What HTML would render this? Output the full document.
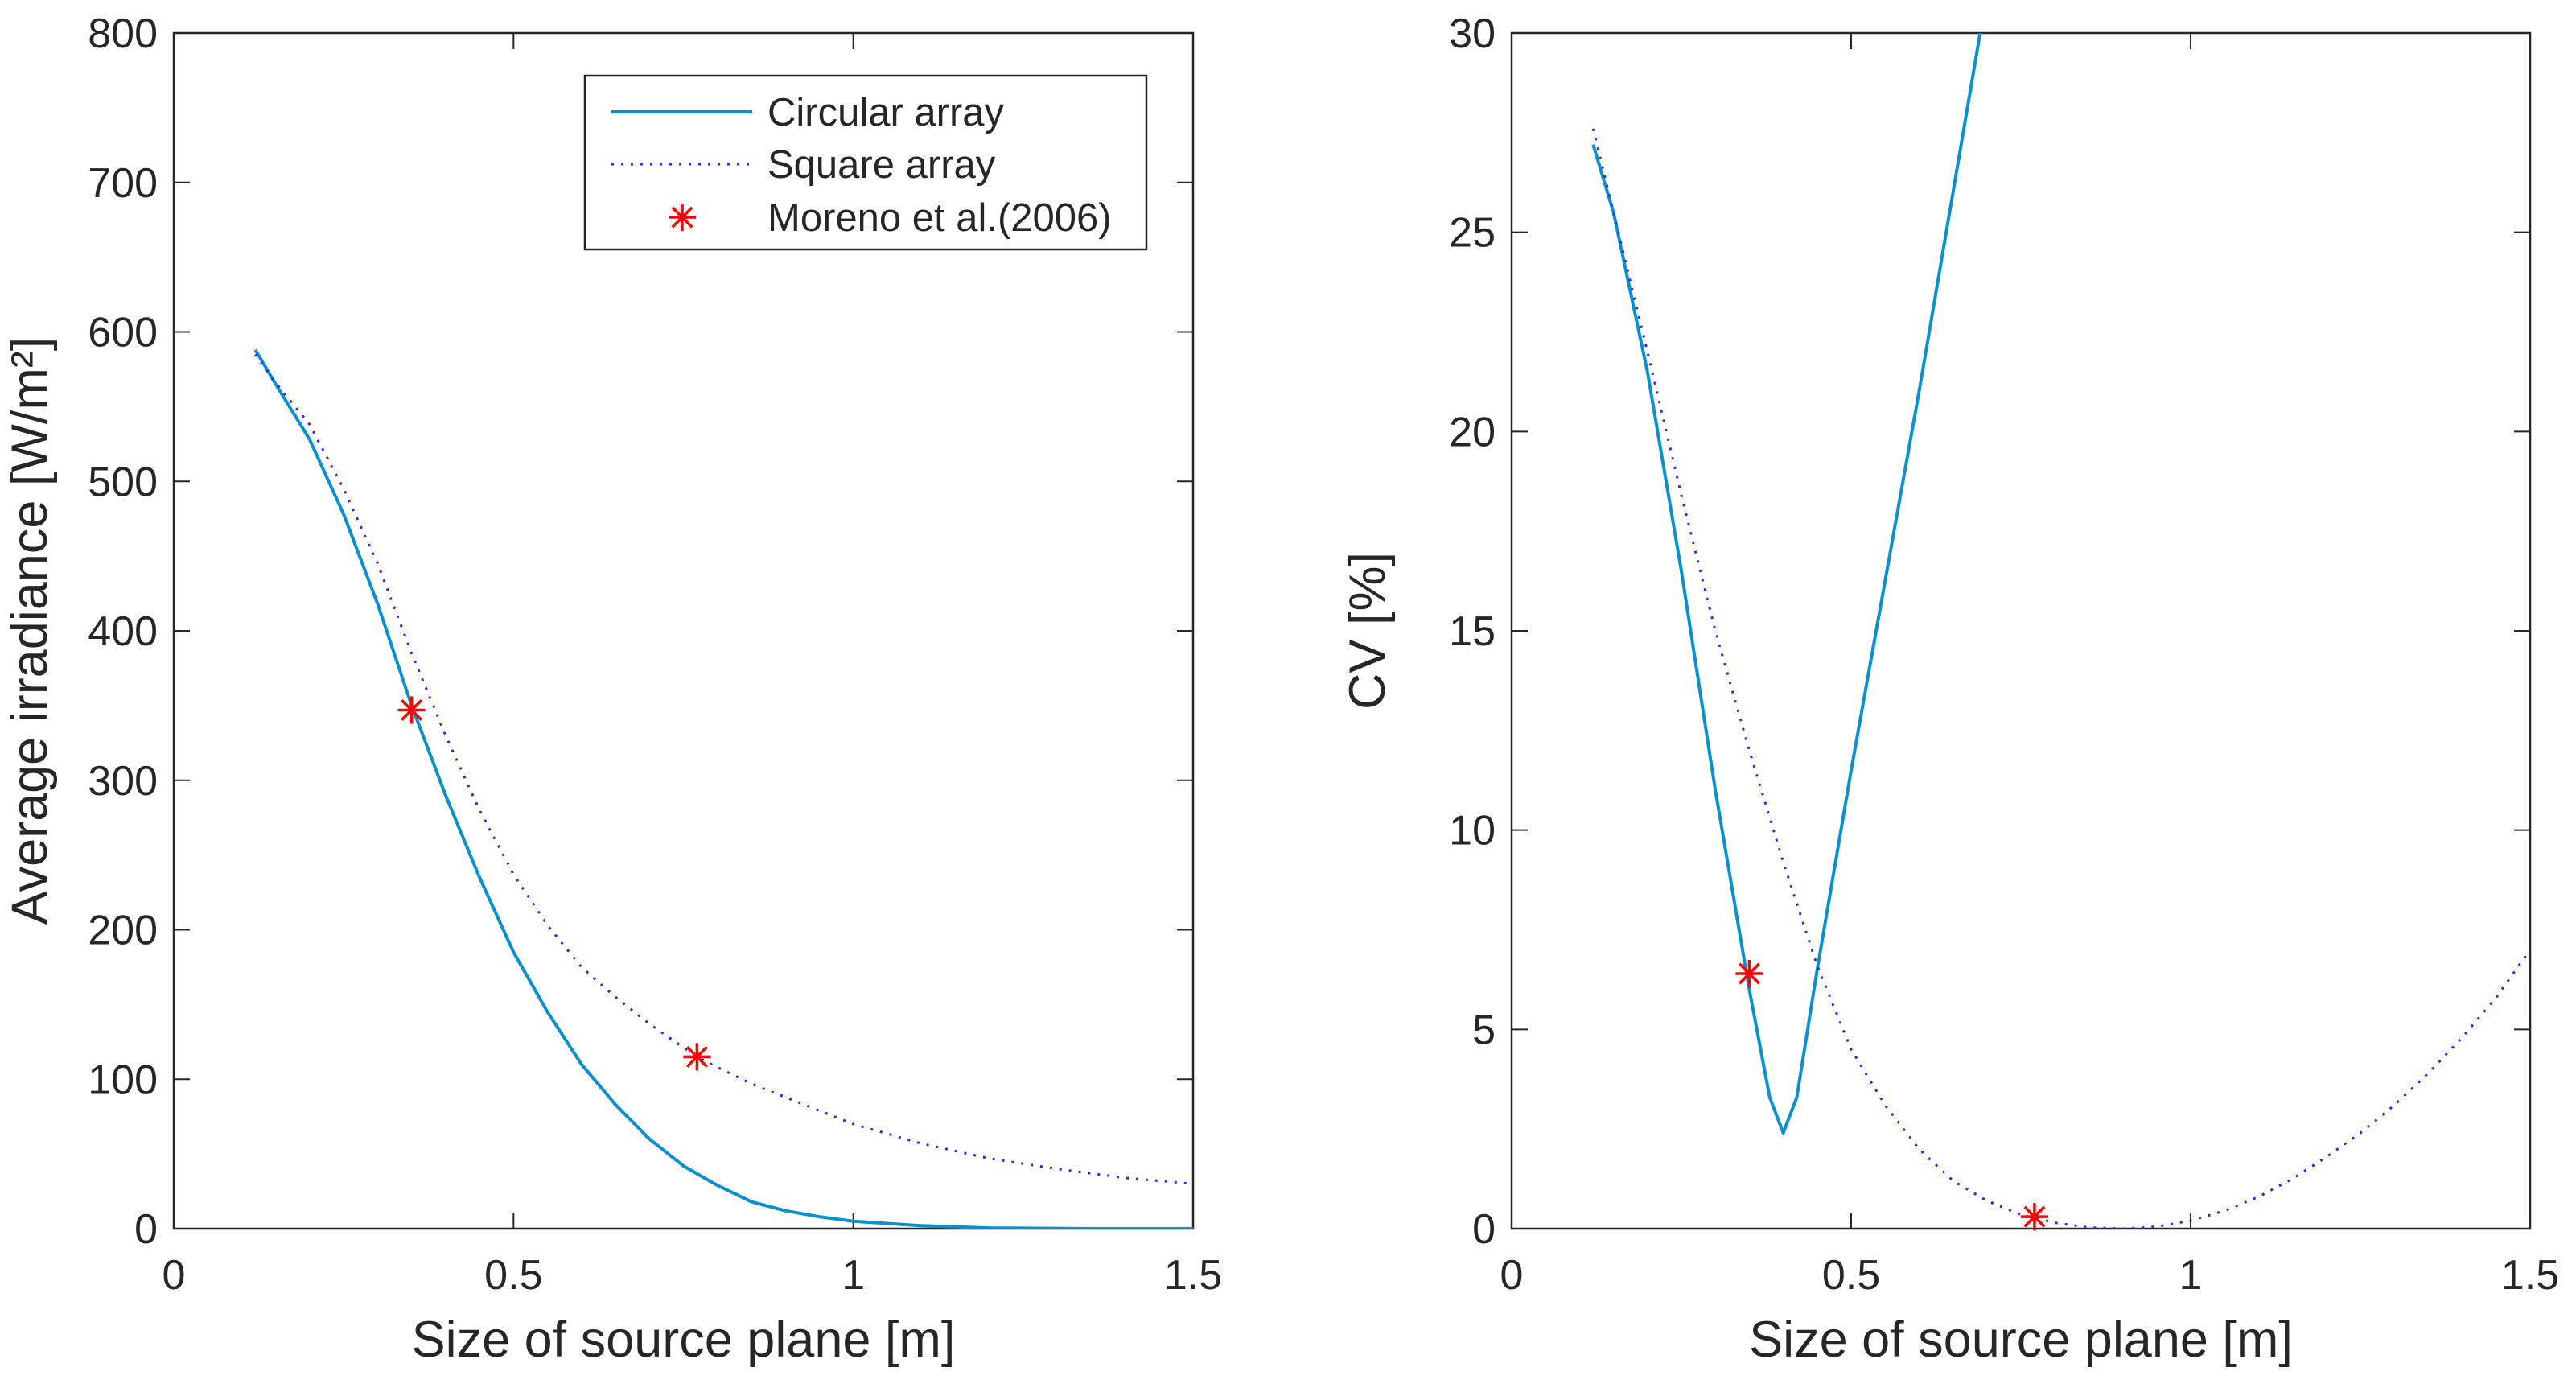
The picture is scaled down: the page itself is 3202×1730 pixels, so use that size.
<!DOCTYPE html>
<html><head><meta charset="utf-8"><style>
html,body{margin:0;padding:0;background:#fff;}
svg text{font-family:"Liberation Sans",sans-serif;fill:#262626;}
</style></head><body>
<svg id="chart" width="3202" height="1725" viewBox="0 0 3202 1725" xmlns="http://www.w3.org/2000/svg">
<defs>
<clipPath id="clipL"><rect x="216" y="41" width="1267" height="1486"/></clipPath>
<clipPath id="clipR"><rect x="1879" y="41" width="1266" height="1486"/></clipPath>
</defs>
<g id="left"></g>
<g id="right"></g>
</svg>
<script>
const xTicks = [0, 0.5, 1, 1.5];
const xTickLabels = ["0", "0.5", "1", "1.5"];
const leftYTicks = [0,100,200,300,400,500,600,700,800];
const rightYTicks = [0,5,10,15,20,25,30];

const irrCircX = [0.12,0.15,0.2,0.25,0.3,0.35,0.4,0.45,0.5,0.55,0.6,0.65,0.7,0.75,0.8,0.85,0.9,0.95,1.0,1.1,1.2,1.35,1.5];
const irrCircY = [588,565,528,478,418,350,290,235,185,145,110,83,60,42,29,18,12,8,5,2,0.5,0,0];
const irrSqX = [0.12,0.15,0.2,0.25,0.3,0.35,0.4,0.45,0.5,0.55,0.6,0.65,0.7,0.77,0.8,0.85,0.9,1.0,1.1,1.2,1.3,1.4,1.5];
const irrSqY = [585,566,538,495,445,385,330,280,237,203,175,155,137,115,108,97,88,70,57,47,40,34,30];
const irrMarkX = [0.35,0.77];
const irrMarkY = [347,115];

const cvCircX = [0.12,0.15,0.2,0.25,0.3,0.35,0.38,0.40,0.42,0.45,0.5,0.6,0.7];
const cvCircY = [27.2,25.5,21.5,16.5,11,6,3.3,2.4,3.3,6.5,11.5,21,31];
const cvSqX = [0.12,0.2,0.25,0.3,0.35,0.4,0.45,0.5,0.55,0.6,0.65,0.7,0.75,0.8,0.85,0.9,0.95,1.0,1.05,1.1,1.15,1.2,1.25,1.3,1.35,1.4,1.45,1.5];
const cvSqY = [27.6,22,18.4,15,12,9.2,6.6,4.5,3.1,2,1.2,0.7,0.35,0.15,0.03,0,0.05,0.2,0.45,0.8,1.25,1.8,2.4,3.1,3.9,4.8,5.8,7];
const cvMarkX = [0.35,0.77];
const cvMarkY = [6.4,0.3];

const NS="http://www.w3.org/2000/svg";
function mk(tag, attrs, parent){const e=document.createElementNS(NS,tag);for(const k in attrs)e.setAttribute(k,attrs[k]);parent.appendChild(e);return e;}

function panel(g, x0, x1, yMax, yTicks, ylabel, clip, cX, cY, sX, sY, mX, mY){
  const y0=1527, y1=41;
  const sx=v=>x0+(v/1.5)*(x1-x0);
  const sy=v=>y0-(v/yMax)*(y0-y1);
  xTicks.forEach((t,i)=>{
    const X=sx(t);
    const a=mk('line',{x1:X,y1:y0,x2:X,y2:y0-20,stroke:'#262626','stroke-width':2},g);
    
    
    mk('line',{x1:X,y1:y1,x2:X,y2:y1+20,stroke:'#262626','stroke-width':2},g);
    const t1=mk('text',{x:X,y:1602,'font-size':52,'text-anchor':'middle'},g);
    t1.textContent=xTickLabels[i];
    
    
  });
  yTicks.forEach(t=>{
    const Y=sy(t);
    mk('line',{x1:x0,y1:Y,x2:x0+20,y2:Y,stroke:'#262626','stroke-width':2},g);
    mk('line',{x1:x1,y1:Y,x2:x1-20,y2:Y,stroke:'#262626','stroke-width':2},g);
    const t1=mk('text',{x:x0-20,y:Y+18,'font-size':52,'text-anchor':'end'},g);
    t1.textContent=String(t);
    
    
  });
  const box=mk('rect',{x:x0,y:y1,width:x1-x0,height:y0-y1,fill:'none',stroke:'#262626','stroke-width':2.5},g);
  
  
  const xl=mk('text',{x:(x0+x1)/2,y:1686,'font-size':63,'text-anchor':'middle'},g);
  xl.textContent='Size of source plane [m]';
  
  
  const lx=x0-158;
  const yl=mk('text',{x:lx,y:784,'font-size':63,'text-anchor':'middle',transform:`rotate(-90 ${lx} 784)`},g);
  yl.textContent=ylabel;
  
  
  const cg=mk('g',{'clip-path':`url(#${clip})`},g);
  const p1=mk('polyline',{points:cX.map((v,i)=>sx(v)+','+sy(cY[i])).join(' '),fill:'none',stroke:'#0a8fcf','stroke-width':4,'stroke-linejoin':'round'},cg);
  
  
  const p2=mk('polyline',{points:sX.map((v,i)=>sx(v)+','+sy(sY[i])).join(' '),fill:'none',stroke:'#2a2af0','stroke-width':3,'stroke-dasharray':'3 9'},cg);
  
  
  mX.forEach((v,i)=>{
    const m=star(sx(v),sy(mY[i]),g);
    
    
  });
}
function star(X,Y,parent){
  const gg=mk('g',{stroke:'#ff0000','stroke-width':3.5},parent);
  const r=17;
  mk('line',{x1:X-r,y1:Y,x2:X+r,y2:Y},gg);
  mk('line',{x1:X,y1:Y-r,x2:X,y2:Y+r},gg);
  mk('line',{x1:X-r*0.72,y1:Y-r*0.72,x2:X+r*0.72,y2:Y+r*0.72},gg);
  mk('line',{x1:X-r*0.72,y1:Y+r*0.72,x2:X+r*0.72,y2:Y-r*0.72},gg);
  return gg;
}
const L=document.getElementById('left'), R=document.getElementById('right');
panel(L,216,1483,800,leftYTicks,'Average irradiance [W/m²]','clipL',irrCircX,irrCircY,irrSqX,irrSqY,irrMarkX,irrMarkY);
panel(R,1879,3145,30,rightYTicks,'CV [%]','clipR',cvCircX,cvCircY,cvSqX,cvSqY,cvMarkX,cvMarkY);

const lg=mk('g',{},L);


mk('rect',{x:727,y:94,width:698,height:216,fill:'#fff',stroke:'#262626','stroke-width':2.5},lg);
const names=['Circular array','Square array','Moreno et al.(2006)'];
const ys=[139,204,270];
names.forEach((n,i)=>{
  const e=mk('g',{},lg);
  
  
  if(i===0) mk('line',{x1:760,y1:ys[i],x2:935,y2:ys[i],stroke:'#0a8fcf','stroke-width':4},e);
  if(i===1) mk('line',{x1:760,y1:ys[i],x2:935,y2:ys[i],stroke:'#2a2af0','stroke-width':3,'stroke-dasharray':'3 9'},e);
  if(i===2) star(848,ys[i],e);
  const t=mk('text',{x:954,y:ys[i]+17,'font-size':49},e);
  t.textContent=n;
});
</script>
</body></html>
